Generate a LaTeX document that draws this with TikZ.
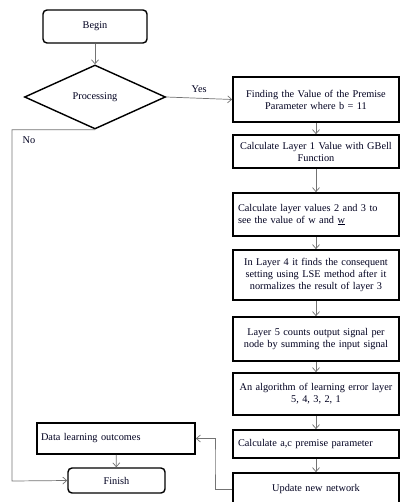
\documentclass[tikz,border=0pt]{standalone}
\usepackage{fontspec}
\setmainfont{Liberation Serif}
\usetikzlibrary{shapes.geometric,arrows.meta}

\begin{document}
\begin{tikzpicture}[x=1pt,y=-1pt,
                    font=\fontsize{10.3}{12}\selectfont,
                    every node/.style={text=black!88!blue},
                    stepbox/.style={draw=black,text=black!88!blue,line width=0.6mm,minimum width=166pt,inner sep=2pt},
                    endbox/.style={draw=black,line width=0.5mm,rounded corners=4pt},
                    link/.style={draw=black!55,line width=0.25mm,-{Straight Barb[length=4pt,width=7pt]}}]
                    
                    \useasboundingbox (0,0) rectangle (400,502);
                    
                    \node[endbox,minimum width=104pt,minimum height=33pt] (begin) at (95,26.5) {Begin};
                    \node[draw=black,line width=0.5mm,diamond,minimum width=141pt,minimum height=64pt,inner sep=0pt] (proc) at (95,97) {Processing};
                    
                    \node[stepbox,minimum height=45pt,text width=160pt,align=center] (s1) at (316,99.5) {Finding the Value of the Premise\\Parameter where b = 11};
                    \node[stepbox,minimum height=33pt,text width=160pt,align=center] (s2) at (316,151.5) {Calculate Layer 1 Value with GBell\\Function};
                    \node[stepbox,minimum height=43pt,text width=156pt,align=left] (s3) at (316,214.5) {Calculate layer values 2 and 3 to\\see the value of w and \underline{w}};
                    \node[stepbox,minimum height=50pt,text width=160pt,align=center] (s4) at (316,275) {In Layer 4 it finds the consequent\\setting using LSE method after it\\normalizes the result of layer 3};
                    \node[stepbox,minimum height=44pt,text width=160pt,align=center] (s5) at (316,339) {Layer 5 counts output signal per\\node by summing the input signal};
                    \node[stepbox,minimum height=42pt,text width=160pt,align=center] (s6) at (316,394) {An algorithm of learning error layer\\5, 4, 3, 2, 1};
                    \node[stepbox,minimum height=28pt,text width=156pt,align=left] (s7) at (316,444) {Calculate a,c premise parameter};
                    \node[stepbox,minimum height=32pt,text width=160pt,align=center] (s8) at (316,489) {Update new network};
                    
                    \node[stepbox,minimum width=158pt,minimum height=31pt,text width=150pt,align=left] (learn) at (116,438.5) {Data learning outcomes};
                    \node[endbox,minimum width=97pt,minimum height=25pt] (finish) at (116.5,480.5) {Finish};
                    
                    %\node at (116,470) {};
                    
                    \draw[link] (begin) -- (proc);
                    \draw[link] (proc.east) -- node[above,yshift=2pt] {Yes} (s1.west);
                    \draw[link] (s1) -- (s2);
                    \draw[link] (s2) -- (s3);
                    \draw[link] (s3) -- (s4);
                    \draw[link] (s4) -- (s5);
                    \draw[link] (s5) -- (s6);
                    \draw[link] (s6) -- (s7);
                    \draw[link] (s7) -- (s8);
                    \draw[link] (learn) -- (finish);
                    
                    \coordinate (nocorner) at (12,481);
                    \draw[link] (proc.south) -| (nocorner) -- (finish.west);
                    \node at (29,140) {No};
                    
                    \coordinate (backturn) at (215,460);
                    \draw[link] (s8.west) -| (backturn) |- (learn.east);
                    
                \end{tikzpicture}
\end{document}
